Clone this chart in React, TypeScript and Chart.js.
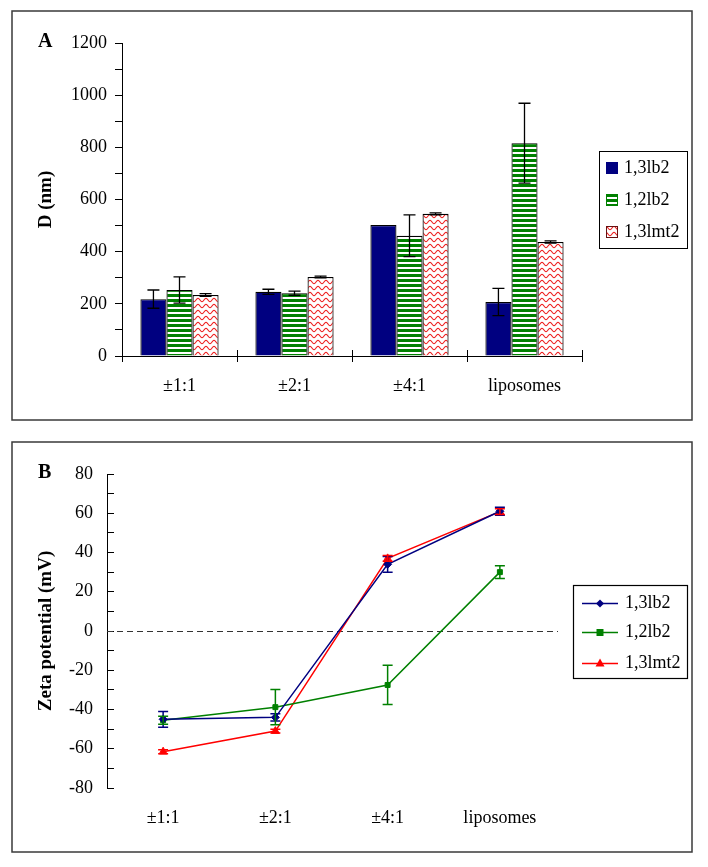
import React, { useEffect, useRef } from 'react';
import { Chart, registerables } from 'chart.js';

Chart.register(...registerables);

// ---------- data ----------
const categories = ['±1:1', '±2:1', '±4:1', 'liposomes'];
const seriesNames = ['1,3lb2', '1,2lb2', '1,3lmt2'];

// Panel A: particle diameter D (nm)
const diam13lb2 = [218, 246, 502, 207];
const diam13lb2Err = [35, 10, 0, 52];
const diam12lb2 = [253, 241, 461, 816];
const diam12lb2Err = [50, 8, 80, 153];
const diam13lmt2 = [234, 303, 545, 437];
const diam13lmt2Err = [5, 3, 4, 4];
const diamTickLabels = [0, 200, 400, 600, 800, 1000, 1200];

// Panel B: zeta potential (mV)
const zeta13lb2 = [-45, -44, 34, 61];
const zeta13lb2Err = [4, 1.8, 4, 2];
const zeta12lb2 = [-45.5, -38.8, -27.5, 30];
const zeta12lb2Err = [2, 9, 10, 3.3];
const zeta13lmt2 = [-61.5, -51, 37, 60.8];
const zeta13lmt2Err = [1, 1, 1.5, 1.5];
const zetaTickLabels = [-80, -60, -40, -20, 0, 20, 40, 60, 80];

// ---------- styles ----------
const FONT = "'Liberation Serif', 'Times New Roman', serif";
const NAVY = '#000080';
const GREEN = '#008000';
const RED = '#ff0000';
const W = 685;

function stripePattern(ctx: CanvasRenderingContext2D) {
  const c = document.createElement('canvas');
  c.width = 4;
  c.height = 5;
  const g = c.getContext('2d')!;
  g.fillStyle = '#ffffff';
  g.fillRect(0, 0, 4, 5);
  g.fillStyle = GREEN;
  g.fillRect(0, 0, 4, 3);
  return ctx.createPattern(c, 'repeat')!;
}

function wavePattern(ctx: CanvasRenderingContext2D) {
  const c = document.createElement('canvas');
  c.width = 8;
  c.height = 6;
  const g = c.getContext('2d')!;
  g.fillStyle = '#ffffff';
  g.fillRect(0, 0, 8, 6);
  g.strokeStyle = '#ee2222';
  g.lineWidth = 1.1;
  g.beginPath();
  for (let x = -1; x <= 9; x += 0.5) {
    const y = 3 + 1.7 * Math.cos((2 * Math.PI * x) / 8);
    if (x === -1) g.moveTo(x, y);
    else g.lineTo(x, y);
  }
  g.stroke();
  return ctx.createPattern(c, 'repeat')!;
}

function panelPlugin(letter: string, legend: (ctx: CanvasRenderingContext2D) => void) {
  return {
    id: 'panel' + letter,
    afterDraw(chart: any) {
      const ctx: CanvasRenderingContext2D = chart.ctx;
      ctx.save();
      ctx.strokeStyle = '#3a3a3a';
      ctx.lineWidth = 1.5;
      ctx.strokeRect(2, 2, 680, chart.height - 4);
      ctx.fillStyle = '#000';
      ctx.font = `bold 20px ${FONT}`;
      ctx.textAlign = 'left';
      ctx.textBaseline = 'middle';
      ctx.fillText(letter, 28, 33);
      legend(ctx);
      ctx.restore();
    },
  };
}

export default function App() {
  const refA = useRef<HTMLCanvasElement>(null);
  const refB = useRef<HTMLCanvasElement>(null);

  useEffect(() => {
    const ctxA = refA.current!.getContext('2d')!;
    const stripes = stripePattern(ctxA);
    const waves = wavePattern(ctxA);
    const diamValues = [diam13lb2, diam12lb2, diam13lmt2];
    const diamErrs = [diam13lb2Err, diam12lb2Err, diam13lmt2Err];
    const fills: any[] = [NAVY, stripes, waves];

    const barErrors = {
      id: 'barErrors',
      afterDatasetsDraw(chart: any) {
        const ctx = chart.ctx;
        const y = chart.scales.y;
        ctx.save();
        ctx.strokeStyle = '#000';
        ctx.lineWidth = 1.3;
        diamErrs.forEach((errs, di) => {
          const meta = chart.getDatasetMeta(di);
          meta.data.forEach((bar: any, i: number) => {
            const e = errs[i];
            if (!e) return;
            const v = diamValues[di][i];
            const yt = y.getPixelForValue(v + e);
            const yb = y.getPixelForValue(v - e);
            ctx.beginPath();
            ctx.moveTo(bar.x, yt);
            ctx.lineTo(bar.x, yb);
            ctx.moveTo(bar.x - 6, yt);
            ctx.lineTo(bar.x + 6, yt);
            ctx.moveTo(bar.x - 6, yb);
            ctx.lineTo(bar.x + 6, yb);
            ctx.stroke();
          });
        });
        ctx.restore();
      },
    };

    const crossTicks = {
      id: 'crossTicks',
      afterDraw(chart: any) {
        const ctx = chart.ctx;
        const { left, right, bottom } = chart.chartArea;
        const n = categories.length;
        ctx.save();
        ctx.strokeStyle = '#000';
        ctx.lineWidth = 1;
        for (let i = 0; i <= n; i++) {
          const x = Math.round(left + ((right - left) * i) / n) + 0.5;
          ctx.beginPath();
          ctx.moveTo(x, bottom - 6);
          ctx.lineTo(x, bottom + 6);
          ctx.stroke();
        }
        ctx.restore();
      },
    };

    const legendA = panelPlugin('A', (ctx) => {
      ctx.strokeStyle = '#000';
      ctx.lineWidth = 1;
      ctx.strokeRect(589.5, 142.5, 88, 97);
      const ys = [159, 191, 223];
      seriesNames.forEach((name, i) => {
        ctx.fillStyle = fills[i];
        ctx.fillRect(596, ys[i] - 6, 12, 12);
        ctx.strokeStyle = i === 1 ? GREEN : i === 2 ? '#661111' : NAVY;
        ctx.strokeRect(596.5, ys[i] - 5.5, 11, 11);
        ctx.fillStyle = '#000';
        ctx.font = `18px ${FONT}`;
        ctx.textBaseline = 'middle';
        ctx.fillText(name, 614, ys[i]);
      });
    });

    const chartA = new Chart(refA.current!, {
      type: 'bar',
      data: {
        labels: categories,
        datasets: seriesNames.map((name, i) => ({
          label: name,
          data: diamValues[i],
          backgroundColor: fills[i],
          borderColor: '#000',
          borderWidth: 1.2,
          barPercentage: 1,
          categoryPercentage: 0.68,
        })),
      },
      options: {
        responsive: false,
        animation: false,
        devicePixelRatio: 1,
        layout: { padding: { left: 0, top: 34, right: W - 572, bottom: 0 } },
        plugins: { legend: { display: false }, tooltip: { enabled: false } },
        scales: {
          x: {
            offset: true,
            grid: { display: false, drawTicks: false },
            border: { display: true, color: '#000', width: 1 },
            ticks: { font: { family: FONT, size: 18 }, color: '#000', padding: 19, autoSkip: false, maxRotation: 0 },
            afterFit: (s: any) => {
              s.height = 66;
            },
          },
          y: {
            min: 0,
            max: 1200,
            ticks: {
              stepSize: 100,
              autoSkip: false,
              font: { family: FONT, size: 18 },
              color: '#000',
              padding: 8,
              callback: (v: any) => (diamTickLabels.includes(Number(v)) ? String(v) : ''),
            },
            grid: { display: true, drawOnChartArea: false, drawTicks: true, tickLength: 7, tickColor: '#000', tickWidth: 1 },
            border: { display: true, color: '#000', width: 1 },
            title: {
              display: true,
              text: 'D (nm)',
              color: '#000',
              font: { family: FONT, size: 19, weight: 'bold' },
              padding: { top: 25, bottom: 0 },
            },
            afterFit: (s: any) => {
              s.width = 112;
            },
          },
        },
      } as any,
      plugins: [barErrors, crossTicks, legendA],
    });

    // ---------- Panel B ----------
    const zetaValues = [zeta13lb2, zeta12lb2, zeta13lmt2];
    const zetaErrs = [zeta13lb2Err, zeta12lb2Err, zeta13lmt2Err];
    const colors = [NAVY, GREEN, RED];
    const styles = ['rectRot', 'rect', 'triangle'];
    const radii = [4, 3.5, 4.5];

    const zeroLine = {
      id: 'zeroLine',
      beforeDatasetsDraw(chart: any) {
        const ctx = chart.ctx;
        const y = Math.round(chart.scales.y.getPixelForValue(0)) + 0.5;
        ctx.save();
        ctx.strokeStyle = '#333';
        ctx.lineWidth = 1.2;
        ctx.setLineDash([6, 4]);
        ctx.beginPath();
        ctx.moveTo(chart.chartArea.left, y);
        ctx.lineTo(chart.chartArea.right + 2, y);
        ctx.stroke();
        ctx.restore();
      },
    };

    const lineErrors = {
      id: 'lineErrors',
      afterDatasetsDraw(chart: any) {
        const ctx = chart.ctx;
        const y = chart.scales.y;
        ctx.save();
        ctx.lineWidth = 1.5;
        zetaErrs.forEach((errs, di) => {
          const meta = chart.getDatasetMeta(di);
          ctx.strokeStyle = colors[di];
          meta.data.forEach((pt: any, i: number) => {
            const e = errs[i];
            if (!e) return;
            const v = zetaValues[di][i];
            const yt = y.getPixelForValue(v + e);
            const yb = y.getPixelForValue(v - e);
            ctx.beginPath();
            ctx.moveTo(pt.x, yt);
            ctx.lineTo(pt.x, yb);
            ctx.moveTo(pt.x - 5, yt);
            ctx.lineTo(pt.x + 5, yt);
            ctx.moveTo(pt.x - 5, yb);
            ctx.lineTo(pt.x + 5, yb);
            ctx.stroke();
          });
        });
        ctx.restore();
      },
    };

    const legendB = panelPlugin('B', (ctx) => {
      ctx.strokeStyle = '#000';
      ctx.lineWidth = 1.2;
      ctx.strokeRect(563.5, 145.5, 114, 93);
      const ys = [163, 192, 223];
      seriesNames.forEach((name, i) => {
        ctx.strokeStyle = colors[i];
        ctx.fillStyle = colors[i];
        ctx.lineWidth = 1.5;
        ctx.beginPath();
        ctx.moveTo(572, ys[i] + 0.5);
        ctx.lineTo(608, ys[i] + 0.5);
        ctx.stroke();
        const cx = 590;
        const cy = ys[i] + 0.5;
        ctx.beginPath();
        if (i === 0) {
          ctx.moveTo(cx, cy - 4);
          ctx.lineTo(cx + 4, cy);
          ctx.lineTo(cx, cy + 4);
          ctx.lineTo(cx - 4, cy);
        } else if (i === 1) {
          ctx.rect(cx - 3.5, cy - 3.5, 7, 7);
        } else {
          ctx.moveTo(cx, cy - 5);
          ctx.lineTo(cx + 4.5, cy + 3);
          ctx.lineTo(cx - 4.5, cy + 3);
        }
        ctx.closePath();
        ctx.fill();
        ctx.fillStyle = '#000';
        ctx.font = `18px ${FONT}`;
        ctx.textBaseline = 'middle';
        ctx.fillText(name, 615, ys[i]);
      });
    });

    const chartB = new Chart(refB.current!, {
      type: 'line',
      data: {
        labels: categories,
        datasets: seriesNames.map((name, i) => ({
          label: name,
          data: zetaValues[i],
          borderColor: colors[i],
          backgroundColor: colors[i],
          borderWidth: 1.5,
          pointStyle: styles[i],
          pointRadius: radii[i],
          pointBorderWidth: 1,
          pointBackgroundColor: colors[i],
          pointBorderColor: colors[i],
          tension: 0,
          fill: false,
        })),
      },
      options: {
        responsive: false,
        animation: false,
        devicePixelRatio: 1,
        layout: { padding: { left: 0, top: 34, right: W - 546, bottom: 0 } },
        plugins: { legend: { display: false }, tooltip: { enabled: false } },
        scales: {
          x: {
            offset: true,
            grid: { display: false, drawTicks: false },
            border: { display: false },
            ticks: { font: { family: FONT, size: 18 }, color: '#000', padding: 19, autoSkip: false, maxRotation: 0 },
            afterFit: (s: any) => {
              s.height = 66;
            },
          },
          y: {
            min: -80,
            max: 80,
            ticks: {
              stepSize: 10,
              autoSkip: false,
              font: { family: FONT, size: 18 },
              color: '#000',
              padding: 21,
              callback: (v: any) => (zetaTickLabels.includes(Number(v)) ? String(v) : ''),
            },
            grid: { display: true, drawOnChartArea: false, drawTicks: true, tickLength: -7, tickColor: '#000', tickWidth: 1 },
            border: { display: true, color: '#000', width: 1 },
            title: {
              display: true,
              text: 'Zeta potential (mV)',
              color: '#000',
              font: { family: FONT, size: 19, weight: 'bold' },
              padding: { top: 25, bottom: 0 },
            },
            afterFit: (s: any) => {
              s.width = 97;
            },
          },
        },
      } as any,
      plugins: [zeroLine, lineErrors, legendB],
    });

    return () => {
      chartA.destroy();
      chartB.destroy();
    };
  }, []);

  return (
    <div>
      <canvas
        ref={refA}
        width={W}
        height={413}
        style={{ position: 'absolute', left: 10, top: 9, width: W, height: 413 }}
      />
      <canvas
        ref={refB}
        width={W}
        height={414}
        style={{ position: 'absolute', left: 10, top: 440, width: W, height: 414 }}
      />
    </div>
  );
}
